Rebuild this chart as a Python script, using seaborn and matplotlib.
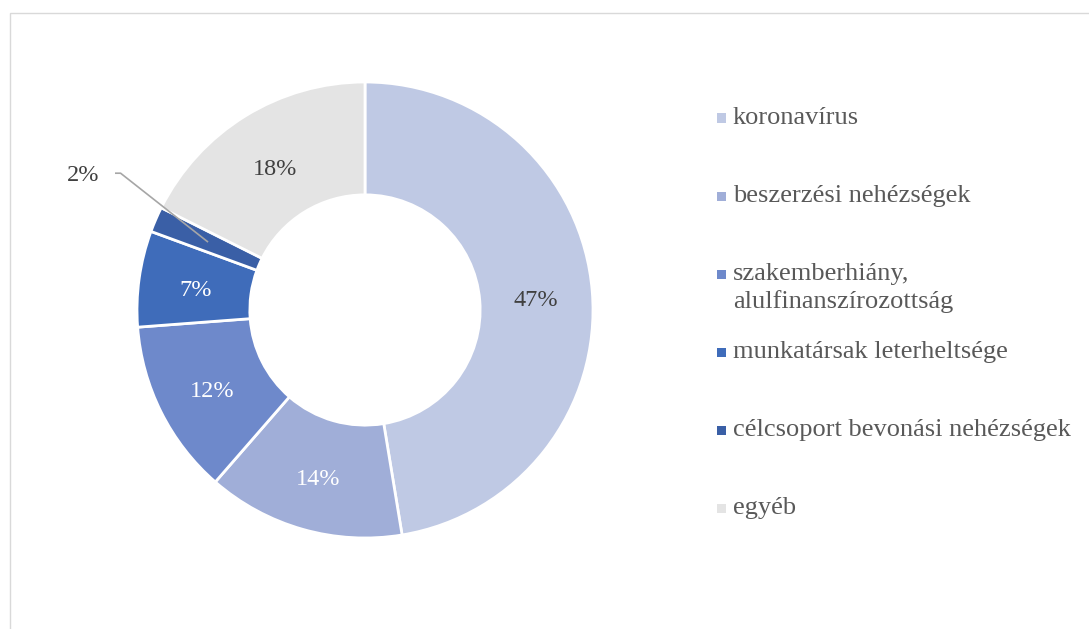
import numpy as np
import matplotlib
matplotlib.use("Agg")
import matplotlib.pyplot as plt
import seaborn as sns
from matplotlib.patches import Rectangle

categories = ["koronavírus", "beszerzési nehézségek",
              "szakemberhiány,\nalulfinanszírozottság",
              "munkatársak leterheltsége", "célcsoport bevonási nehézségek", "egyéb"]
values = [47.4, 14.0, 12.4, 6.8, 1.8, 17.6]
colors = ["#BFC9E4", "#A0AED8", "#6E89CB", "#3F6CBA", "#3A5FA6", "#E4E4E4"]
label_colors = ["#404040", "white", "white", "white", "#404040", "#404040"]

sns.set_theme(style="white")
plt.rcParams['font.family'] = ['Liberation Serif', 'DejaVu Serif']

W, H = 1089, 629
fig = plt.figure(figsize=(W / 100, H / 100), dpi=100)
fig.patch.set_facecolor("white")

# outer frame
fig.patches.append(Rectangle((10 / W, -0.1), 1.2, (H - 13) / H + 0.1, transform=fig.transFigure,
                             fill=False, edgecolor="#D9D9D9", linewidth=1.0))

cx, cy, R = 365, 310, 228
half = 250
ax = fig.add_axes([(cx - half) / W, (H - cy - half) / H, 2 * half / W, 2 * half / H])

wedges, _ = ax.pie(values, colors=colors, startangle=90, counterclock=False, radius=1.0,
                   wedgeprops=dict(width=0.495, edgecolor="white", linewidth=2.0))
ax.set_xlim(-half / R, half / R)
ax.set_ylim(-half / R, half / R)
ax.axis("off")

fs = 17.5
for w, v, lc in zip(wedges, values, label_colors):
    theta = np.deg2rad((w.theta1 + w.theta2) / 2)
    r = 0.75
    x, y = r * np.cos(theta), r * np.sin(theta)
    txt = f"{v:.0f}%"
    if v < 5:
        tx, ty = -1.237, 0.60
        ax.text(tx, ty - 0.01, txt, ha="center", va="center", fontsize=fs, color=lc)
        ax.plot([tx + 0.11, tx + 0.165, x], [ty, ty, y], color="#A6A6A6", linewidth=1.2,
                solid_capstyle="butt")
    else:
        ax.text(x, y - 0.02, txt, ha="center", va="center", fontsize=fs, color=lc)

# legend
lfs = 19
for i, (cat, col) in enumerate(zip(categories, colors)):
    ypx = 118 + 78 * i
    fig.patches.append(Rectangle((717 / W, 1 - (ypx + 4.5) / H), 9 / W, 9 / H,
                                 transform=fig.transFigure, facecolor=col, edgecolor="none"))
    for j, line in enumerate(cat.split("\n")):
        fig.text(733 / W, 1 - (ypx + 28 * j) / H, line, fontsize=lfs, color="#595959",
                 ha="left", va="center")

fig.savefig("out.png", dpi=100, facecolor="white")
